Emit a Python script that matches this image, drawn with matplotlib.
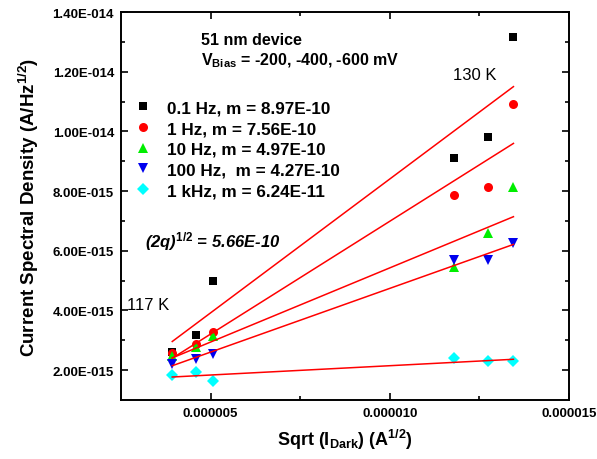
import numpy as np
from matplotlib import pyplot as plt
from matplotlib.ticker import FuncFormatter, FixedLocator

plt.rcParams['font.family'] = ['Liberation Sans', 'DejaVu Sans']
plt.rcParams['mathtext.fontset'] = 'custom'
plt.rcParams['mathtext.rm'] = 'Liberation Sans:bold'
plt.rcParams['mathtext.bf'] = 'Liberation Sans:bold'
plt.rcParams['mathtext.it'] = 'Liberation Sans:bold:italic'
plt.rcParams['mathtext.default'] = 'rm'

# sqrt of dark current (A^1/2)
x_vals = [3.93e-6, 4.58e-6, 5.07e-6, 11.8e-6, 12.73e-6, 13.45e-6]

labels = ['0.1 Hz, m = 8.97E-10', '1 Hz, m = 7.56E-10', '10 Hz, m = 4.97E-10',
          '100 Hz,  m = 4.27E-10', '1 kHz, m = 6.24E-11']
y_01hz = [2.60e-15, 3.18e-15, 5.00e-15, 9.11e-15, 9.81e-15, 13.16e-15]
y_1hz = [2.57e-15, 2.87e-15, 3.29e-15, 7.86e-15, 8.14e-15, 10.92e-15]
y_10hz = [2.48e-15, 2.79e-15, 3.16e-15, 5.47e-15, 6.58e-15, 8.12e-15]
y_100hz = [2.21e-15, 2.37e-15, 2.55e-15, 5.69e-15, 5.69e-15, 6.25e-15]
y_1khz = [1.84e-15, 1.93e-15, 1.64e-15, 2.40e-15, 2.29e-15, 2.31e-15]

# linear fits: slope m and intercept b
slopes = [8.97e-10, 7.56e-10, 4.97e-10, 4.27e-10, 6.24e-11]
intercepts = [-0.565e-15, -0.571e-15, 0.457e-15, 0.47e-15, 1.525e-15]

x_ticks = [5e-6, 1e-5, 1.5e-5]
x_minor = [7.5e-6, 12.5e-6]
y_ticks = [2e-15, 4e-15, 6e-15, 8e-15, 1e-14, 1.2e-14, 1.4e-14]
y_minor = [3e-15, 5e-15, 7e-15, 9e-15, 1.1e-14, 1.3e-14]

series = [y_01hz, y_1hz, y_10hz, y_100hz, y_1khz]
markers = ['s', 'o', '^', 'v', 'D']
colors = ['black', 'red', '#00ee00', '#0000ee', 'cyan']
msizes = [6, 6.5, 7.5, 7.5, 6.5]

fig = plt.figure(figsize=(5.97, 4.6), dpi=100)
ax = fig.add_axes([121/597, 1 - 401/460, 448/597, 388/460])

handles = []
for ys, mk, c, ms, lab in zip(series, markers, colors, msizes, labels):
    h, = ax.plot(x_vals, ys, linestyle='none', marker=mk, color=c, markersize=ms,
                 markeredgewidth=0, label=lab)
    handles.append(h)

xfit = np.array([x_vals[0], x_vals[-1]])
for m, b in zip(slopes, intercepts):
    ax.plot(xfit, m * xfit + b, color='red', linewidth=1.1)

ax.set_xlim(2.5e-6, 1.5e-5)
ax.set_ylim(1e-15, 1.4e-14)
ax.xaxis.set_major_locator(FixedLocator(x_ticks))
ax.xaxis.set_minor_locator(FixedLocator(x_minor))
ax.yaxis.set_major_locator(FixedLocator(y_ticks))
ax.yaxis.set_minor_locator(FixedLocator(y_minor))


def yfmt(v, pos):
    mant, exp = ('%.2E' % v).split('E')
    e = int(exp)
    return '%sE%s%03d' % (mant, '-' if e < 0 else '+', abs(e))


ax.yaxis.set_major_formatter(FuncFormatter(yfmt))
ax.xaxis.set_major_formatter(FuncFormatter(lambda v, p: '%.6f' % v))
ax.tick_params(which='both', direction='in', top=True, right=True, width=1.2)
ax.tick_params(which='major', length=5, labelsize=9.5, pad=5)
ax.tick_params(which='minor', length=3)
for lab in ax.get_xticklabels() + ax.get_yticklabels():
    lab.set_fontweight('bold')
for sp in ax.spines.values():
    sp.set_linewidth(1.4)

ax.set_xlabel(r'Sqrt (I$_{\mathregular{Dark}}$) (A$^{1/2}$)', fontsize=13,
              fontweight='bold', labelpad=6)
ax.set_ylabel(r'Current Spectral Density (A/Hz$^{1/2}$)', fontsize=13.5,
              fontweight='bold', labelpad=8)

leg = ax.legend(handles=handles, loc='upper left', bbox_to_anchor=(0.031, 0.772),
                frameon=False, prop={'weight': 'bold', 'size': 12.3},
                handletextpad=0.9, labelspacing=0.33, handlelength=1.0,
                borderaxespad=0, borderpad=0)

ax.text(0.179, 0.93, '51 nm device', transform=ax.transAxes, fontsize=11.5,
        fontweight='bold', va='center')
ax.text(0.179, 0.876, r'V$_{\mathregular{Bias}}$ = -200, -400, -600 mV',
        transform=ax.transAxes, fontsize=11.5, fontweight='bold', va='center')
ax.text(0.741, 0.84, '130 K', transform=ax.transAxes, fontsize=12, va='center')
ax.text(0.013, 0.247, '117 K', transform=ax.transAxes, fontsize=12, va='center')
ax.text(0.054, 0.41, r'(2q)$^{\mathit{1/2}}$ = 5.66E-10', transform=ax.transAxes,
        fontsize=12, fontweight='bold', fontstyle='italic', va='center')

fig.savefig('out.png', dpi=100)
